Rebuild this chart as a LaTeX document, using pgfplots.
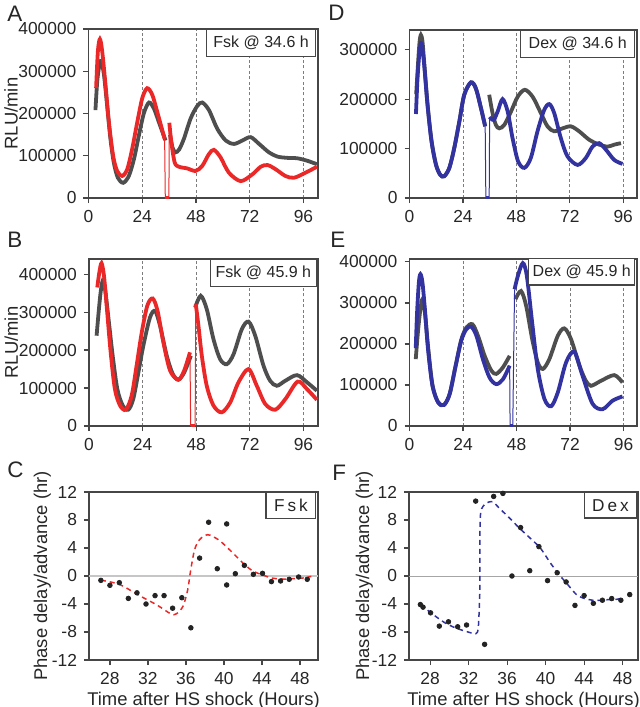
\documentclass[border=0pt]{standalone}
\usepackage{fontspec}
\setmainfont{Liberation Sans}
\usepackage{pgfplots}
\pgfplotsset{compat=1.18}

\definecolor{redc}{RGB}{234,40,40}
\definecolor{bluec}{RGB}{50,50,160}
\definecolor{grayc}{RGB}{78,78,78}
\definecolor{axgray}{RGB}{70,70,70}
\definecolor{dotc}{RGB}{35,35,35}

\tikzset{
  legbox/.style={draw=axgray, line width=0.6pt, fill=white, text=black!85,
    font=\fontsize{8}{9}\selectfont, inner xsep=3.6pt, minimum height=13pt},
  thick line/.style={line width=1.9pt, smooth},
  thin drop/.style={line width=0.5pt},
  letter/.style={anchor=base west, inner sep=0pt, font=\fontsize{11.2}{12}\selectfont, text=black!85},
}

\pgfplotsset{
  panel/.style={
    scale only axis, anchor=south west,
    axis line style={draw=axgray, line width=0.6pt},
    tick style={draw=axgray, line width=0.6pt},
    tick align=outside, major tick length=2.5pt, tick pos=left,
    ticklabel style={font=\fontsize{8.7}{10}\selectfont, text=black!85},
    label style={font=\fontsize{9.2}{11}\selectfont, text=black!85},
    /pgf/number format/assume math mode=true,
    /pgf/number format/fixed,
    /pgf/number format/1000 sep={},
    scaled ticks=false,
  },
  lum/.style={panel, xmin=0, ymin=0, xtick={0,24,48,72,96},
    xmajorgrids, grid style={axgray!70, line width=0.4pt, dash pattern=on 1.5pt off 1.2pt}},
  phase/.style={panel, ymin=-12, ymax=12, ytick={-12,-8,-4,0,4,8,12},
    xtick={28,32,36,40,44,48}, xlabel={Time after HS shock (Hours)},
    ylabel={Phase delay/advance (hr)},
    xlabel style={at={(axis description cs:0.5,-0.148)}, anchor=north}},
}

\begin{document}
\begin{tikzpicture}
\useasboundingbox (0,0) rectangle (320pt,-353.5pt);

% ---------- A ----------
\begin{axis}[lum, at={(44.25pt,-99pt)}, width=114.75pt, height=84.5pt,
  xmax=102.5, ymax=400000, ytick={0,100000,200000,300000,400000}, ylabel={RLU/min},
  ylabel style={at={(axis description cs:-0.277,0.5)}, anchor=south}]
\addplot[grayc, thick line] coordinates {(3.1,208000)(3.9,276000)(4.8,312000)(5.7,324000)(6.9,292000)(8.3,220000)(9.8,140000)(11.3,84000)(13.1,48000)(15.5,36000)(18,52000)(20.3,92000)(22.5,148000)(24.7,200000)(27,226000)(29.2,212000)(31.4,180000)(34.4,136000)};
\addplot[grayc, thick line] coordinates {(36.4,150000)(37.5,120000)(38.8,108000)(40.5,115000)(42.6,140000)(45.6,188000)(48.6,218000)(50.8,226000)(53.8,208000)(57.5,164000)(61.3,136000)(65,128000)(68.7,136000)(72.4,144000)(76.2,128000)(80.6,108000)(84.4,98000)(88.8,95000)(93.3,94000)(97.8,88000)(102,80000)};
\addplot[redc, thick line] coordinates {(3.4,260000)(4.2,348000)(5.1,376000)(6.1,348000)(7.6,268000)(9.1,180000)(11,100000)(12.8,64000)(15,52000)(17.3,68000)(19.5,116000)(21.8,180000)(24,236000)(26.2,260000)(28.5,244000)(30.7,204000)(34,140000)};
\addplot[redc, thin drop] coordinates {(34,140000)(34.3,0)};
\addplot[redc, line width=1.9pt] coordinates {(34.3,0)(35.9,0)};
\addplot[redc, thin drop] coordinates {(35.9,0)(36.1,178000)};
\addplot[redc, thick line] coordinates {(36.1,178000)(37,132000)(38.5,84000)(40.4,74000)(44.1,70000)(47.8,64000)(50.8,76000)(53.8,104000)(56,114000)(59,96000)(62.7,60000)(68,40000)(73.2,56000)(76.9,74000)(80,78000)(83.6,68000)(88,52000)(91.8,48000)(97,60000)(102,74000)};
\node[legbox, anchor=north east, inner xsep=3.5pt] at (rel axis cs:0.993,1) {Fsk @ 34.6 h};
\end{axis}

% ---------- D ----------
\begin{axis}[lum, at={(204.75pt,-99pt)}, width=113.75pt, height=84pt,
  xmax=102.2, ymax=340000, ytick={0,100000,200000,300000}]
\addplot[grayc, thick line] coordinates {(3.0,210000)(3.8,270000)(4.5,315000)(5.1,330000)(5.8,318000)(6.6,275000)(8.1,190000)(9.9,116000)(11.9,68000)(13.8,47000)(15.6,44000)(17.9,61000)(20.1,101000)(22.4,155000)(24.6,209000)(27.6,234000)(29.8,222000)(32.1,182000)(34,145000)};
\addplot[grayc, thick line] coordinates {(35.8,209000)(37.3,172000)(38.8,148000)(40.3,141000)(42.6,148000)(45.6,175000)(48.6,205000)(51.8,219000)(55.3,205000)(59,172000)(62,145000)(65,135000)(68.8,141000)(72.5,145000)(76.2,135000)(80.7,118000)(85.2,108000)(89,104000)(92,108000)(95,111000)};
\addplot[bluec, thick line] coordinates {(2.9,170000)(3.6,242000)(4.5,296000)(5.4,313000)(6.6,269000)(8.1,188000)(9.9,114000)(11.9,67000)(13.8,47000)(15.6,44000)(17.9,61000)(20.1,101000)(22.4,155000)(24.6,209000)(27.6,234000)(29.8,222000)(32.1,182000)(34,145000)};
\addplot[bluec, thin drop] coordinates {(34,145000)(34.3,0)};
\addplot[bluec, line width=1.9pt] coordinates {(34.3,0)(35.8,0)};
\addplot[bluec, thin drop] coordinates {(35.8,0)(36,164000)};
\addplot[bluec, thick line] coordinates {(36,164000)(37.8,158000)(39.6,175000)(41.8,200000)(44.1,175000)(46.3,121000)(48.8,74000)(51.6,61000)(54.5,81000)(57.5,135000)(60.5,178000)(62.8,190000)(65,172000)(68,121000)(71,84000)(75.5,67000)(79.2,81000)(82.2,104000)(85.2,111000)(88.2,98000)(92,77000)(95.7,69000)};
\node[legbox, anchor=north east, inner xsep=4pt] at (rel axis cs:0.993,1) {Dex @ 34.6 h};
\end{axis}

% ---------- B ----------
\begin{axis}[lum, at={(44.5pt,-213pt)}, width=114.5pt, height=83.5pt,
  xmax=102.5, ymax=440000, ytick={0,100000,200000,300000,400000}, ylabel={RLU/min},
  ylabel style={at={(axis description cs:-0.279,0.5)}, anchor=south}]
\addplot[grayc, thick line] coordinates {(3.4,238000)(4.3,299000)(5.2,352000)(6.1,382000)(7.1,365000)(8.6,290000)(10.6,185000)(12.7,97000)(15.1,54000)(17.6,43000)(19.8,71000)(22.1,141000)(24.3,211000)(27.3,286000)(29.6,303000)(31.8,264000)(34.8,185000)(37.5,137000)(40,122000)(42.6,141000)(45.6,185000)};
\addplot[grayc, thick line] coordinates {(47.5,312000)(50,343000)(52.7,308000)(55.7,229000)(58.7,176000)(61.7,163000)(64.7,189000)(68.4,255000)(71.4,275000)(74.4,238000)(78.1,159000)(81.1,119000)(84.1,106000)(87.8,119000)(93.1,134000)(97.6,115000)(102,93000)};
\addplot[redc, thick line] coordinates {(3.7,365000)(4.6,404000)(5.6,429000)(6.7,396000)(7.9,317000)(9.7,194000)(11.6,97000)(13.9,54000)(16.5,43000)(19.1,80000)(21.3,159000)(23.6,246000)(26.1,317000)(28.5,336000)(30.7,303000)(33.3,220000)(36.3,146000)(40,122000)(42.6,146000)(45.2,194000)};
\addplot[redc, thin drop] coordinates {(45.2,194000)(45.5,0)};
\addplot[redc, line width=1.9pt] coordinates {(45.5,0)(47.5,0)};
\addplot[redc, thin drop] coordinates {(47.5,0)(47.8,321000)};
\addplot[redc, thick line] coordinates {(47.8,321000)(49,264000)(50.5,185000)(52.7,106000)(55.7,54000)(59.4,36000)(63.2,62000)(66.9,115000)(71.4,150000)(75.1,106000)(78.9,58000)(83.4,43000)(87.9,71000)(93.4,117000)(97.6,97000)(102,69000)};
\node[legbox, anchor=north east, inner xsep=2.8pt] at (rel axis cs:0.997,1) {Fsk @ 45.9 h};
\end{axis}

% ---------- E ----------
\begin{axis}[lum, at={(204.75pt,-213pt)}, width=113.75pt, height=83.5pt,
  xmax=102, ymax=407000, ytick={0,100000,200000,300000,400000}]
\addplot[grayc, thick line] coordinates {(2.8,163000)(3.9,236000)(4.9,285000)(5.8,309000)(6.9,277000)(8.3,195000)(10.3,100000)(12.8,58000)(15.4,51000)(18,78000)(20.7,147000)(23.2,210000)(25.5,240000)(28.2,248000)(30.7,220000)(33.7,171000)(36.7,135000)(38.9,127000)(41.9,143000)(44.9,171000)};
\addplot[grayc, thick line] coordinates {(47.5,309000)(50,329000)(52.3,293000)(55,212000)(57.5,155000)(59.8,139000)(62.7,163000)(66.5,220000)(69.4,238000)(72.4,212000)(76.2,147000)(79.1,110000)(81.4,98000)(85.8,110000)(91.8,124000)(95.5,106000)};
\addplot[bluec, thick line] coordinates {(2.8,190000)(3.4,277000)(4.2,350000)(4.9,370000)(5.8,350000)(6.9,285000)(8.3,187000)(10.3,98000)(12.8,58000)(15.4,51000)(18,78000)(20.7,147000)(23.2,208000)(25.5,236000)(27.7,242000)(30,220000)(32.9,163000)(35.9,118000)(38.9,102000)(41.9,114000)(44.9,147000)};
\addplot[bluec, thin drop] coordinates {(44.9,147000)(45.1,0)};
\addplot[bluec, line width=1.9pt] coordinates {(45.1,0)(46.3,0)};
\addplot[bluec, thin drop] coordinates {(46.3,0)(47.1,333000)};
\addplot[bluec, thick line] coordinates {(47.1,333000)(48.6,366000)(50.8,397000)(52.6,366000)(55,252000)(57.5,139000)(60.5,66000)(63.5,48000)(66.5,82000)(70.2,155000)(73.9,181000)(77.6,122000)(82.1,54000)(86.6,41000)(91.1,62000)(95.5,72000)};
\node[legbox, anchor=north east, inner xsep=2pt] at (rel axis cs:0.993,1.01) {Dex @ 45.9 h};
\end{axis}

% ---------- C ----------
\begin{axis}[phase, at={(44.5pt,-330pt)}, width=114.5pt, height=84pt, xmin=25.8, xmax=49.9,
  ylabel style={at={(axis description cs:-0.135,0.5)}, anchor=south}]
\addplot[gray!45, line width=0.8pt] coordinates {(25.8,0)(49.9,0)};
\addplot[redc, line width=0.75pt, dash pattern=on 2.5pt off 2pt, smooth] coordinates {(27.05,-0.6)(29,-1.2)(31.1,-2.8)(32.9,-4.1)(34.4,-5.4)(35,-5.4)(35.7,-4.3)(36.2,-1.9)(36.45,0.4)(36.9,3.7)(37.44,5.2)(38.3,5.9)(39.4,5.2)(40.25,4.2)(41.3,2.8)(42.2,1.6)(43.1,0.66)(44,0.2)(45,-0.28)(46.2,-0.43)(47.3,-0.38)(48.35,-0.28)(49.2,-0.05)};
\addplot[only marks, mark=*, mark size=1.15pt, draw=dotc, fill=dotc] coordinates {(27.05,-0.62)(28,-1.33)(28.99,-0.95)(29.94,-3.2)(30.85,-2.4)(31.8,-4.0)(32.75,-2.8)(33.7,-2.8)(34.6,-4.6)(35.57,-3.1)(36.52,-7.4)(37.44,2.56)(38.39,7.68)(39.3,1.04)(40.29,7.44)(40.29,-1.28)(41.2,0.33)(42.15,1.52)(43.1,0.24)(44.06,0.38)(45.0,-0.8)(45.96,-0.71)(46.87,-0.47)(47.86,-0.14)(48.77,-0.47)};
\node[legbox, anchor=north east, font=\fontsize{8.6}{9}\selectfont, minimum height=12.5pt, inner xsep=4pt] at (rel axis cs:0.993,1) {F\hspace{1.5pt}s\hspace{1.5pt}k};
\end{axis}

% ---------- F ----------
\begin{axis}[phase, at={(204.5pt,-330pt)}, width=114.5pt, height=84pt, xmin=25.8, xmax=49.6,
  ylabel style={at={(axis description cs:-0.127,0.5)}, anchor=south}]
\addplot[gray!70, line width=0.5pt] coordinates {(25.8,0)(49.6,0)};
\addplot[bluec, line width=0.75pt, dash pattern=on 2.5pt off 2pt, smooth, tension=0.4] coordinates {(27,-4.1)(28.5,-5.7)(29.55,-6.7)(30.6,-7.4)(31.7,-7.9)(32.73,-8.25)(33.0,-7.4)(33.16,-2.2)(33.16,4.9)(33.26,9.2)(33.8,10.4)(34.5,10.6)(35.2,9.67)(36.27,8.25)(37.3,6.8)(38.4,5.4)(39.45,4.0)(40.5,1.85)(41.4,0.2)(42.3,-1.23)(43.2,-2.65)(44,-3.2)(45.1,-3.5)(46.2,-3.4)(47.2,-3.36)(47.9,-3.2)};
\addplot[only marks, mark=*, mark size=1.15pt, draw=dotc, fill=dotc] coordinates {(26.98,-4.08)(27.26,-4.45)(28.04,-5.26)(28.95,-7.16)(29.9,-6.54)(30.86,-7.25)(31.78,-7.0)(32.73,10.7)(33.66,-9.76)(34.6,11.37)(35.56,11.8)(36.5,0.0)(37.4,6.92)(38.35,0.76)(39.3,4.2)(40.2,-0.66)(41.2,0.47)(42.13,-0.85)(43.05,-4.2)(44.0,-2.8)(44.96,-3.9)(45.9,-3.46)(46.87,-3.22)(47.82,-3.46)(48.74,-2.65)};
\node[legbox, anchor=north east, font=\fontsize{8.6}{9}\selectfont, minimum height=12.5pt, inner xsep=4pt] at (rel axis cs:0.997,1) {D\hspace{1.5pt}e\hspace{1.5pt}x};
\end{axis}

% panel letters
\node[letter] at (3.5pt,-10.5pt) {A};
\node[letter] at (164pt,-10pt) {D};
\node[letter] at (3.5pt,-123.5pt) {B};
\node[letter] at (165pt,-123.5pt) {E};
\node[letter] at (3.5pt,-238.5pt) {C};
\node[letter] at (166pt,-240pt) {F};
\end{tikzpicture}
\end{document}
